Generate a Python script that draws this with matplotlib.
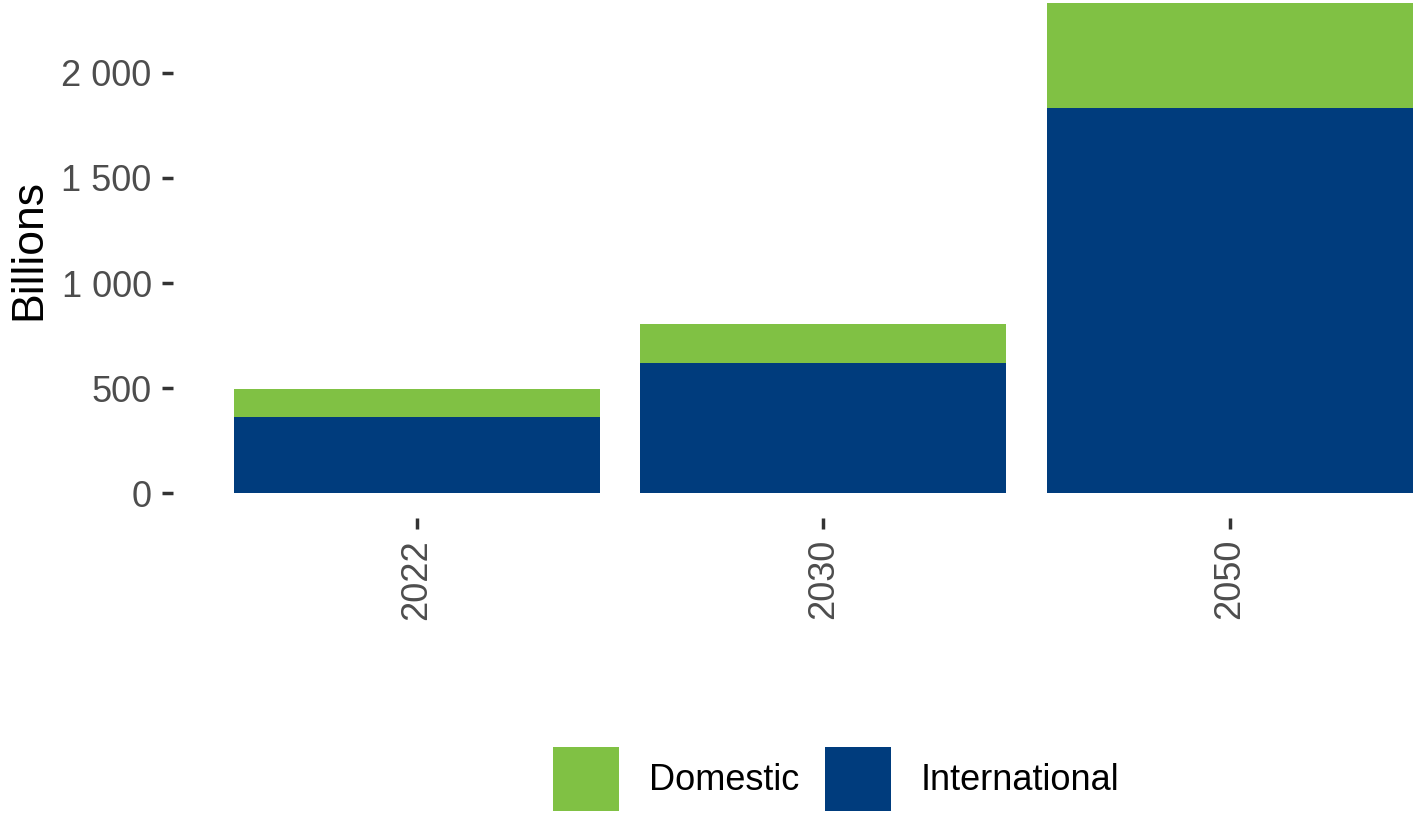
import matplotlib
matplotlib.use("Agg")
import matplotlib.pyplot as plt
from matplotlib.ticker import FuncFormatter
from matplotlib.patches import Patch

plt.rcParams['font.family'] = ['Liberation Sans', 'DejaVu Sans']

years = ["2022", "2030", "2050"]
international = [361, 621, 1831]
domestic = [135, 183, 502]
series_names = ["Domestic", "International"]
colors = {"Domestic": "#80C144", "International": "#003C7D"}

W, H = 1417, 814
fig = plt.figure(figsize=(W / 100, H / 100), dpi=100)
left_px, bottom_px = 172.5, 518
ax = fig.add_axes([left_px / W, (H - bottom_px) / H, 1 - left_px / W, bottom_px / H])

x = list(range(len(years)))
ax.bar(x, international, width=0.9, color=colors["International"], linewidth=0)
ax.bar(x, domestic, bottom=international, width=0.9, color=colors["Domestic"], linewidth=0)

ax.set_xlim(-0.6, 2.46)
ax.set_ylim(-117.4, 2345.7)
ax.set_xticks(x)
ax.set_xticklabels(years, rotation=90)
ax.set_yticks([0, 500, 1000, 1500, 2000])
ax.yaxis.set_major_formatter(FuncFormatter(lambda v, p: f"{int(v):,}".replace(",", " ")))

for s in ax.spines.values():
    s.set_visible(False)
ax.tick_params(axis='both', length=8, width=2.5, color="#333333", labelcolor="#4D4D4D",
               labelsize=26, pad=7)

ax.set_ylabel("Billions", fontsize=32, color="black")
ax.yaxis.set_label_coords((49 - left_px) / (W - left_px), (bottom_px - 250) / bottom_px)

handles = [Patch(facecolor=colors[n], edgecolor='none', label=n) for n in series_names]
fig.legend(handles=handles, loc='center', bbox_to_anchor=(836 / W, (H - 779) / H),
           ncol=2, frameon=False, fontsize=26, handlelength=1.83, handleheight=2.32,
           handletextpad=0.83, columnspacing=0.72, borderpad=0, borderaxespad=0)

fig.savefig("out.png", dpi=100)
